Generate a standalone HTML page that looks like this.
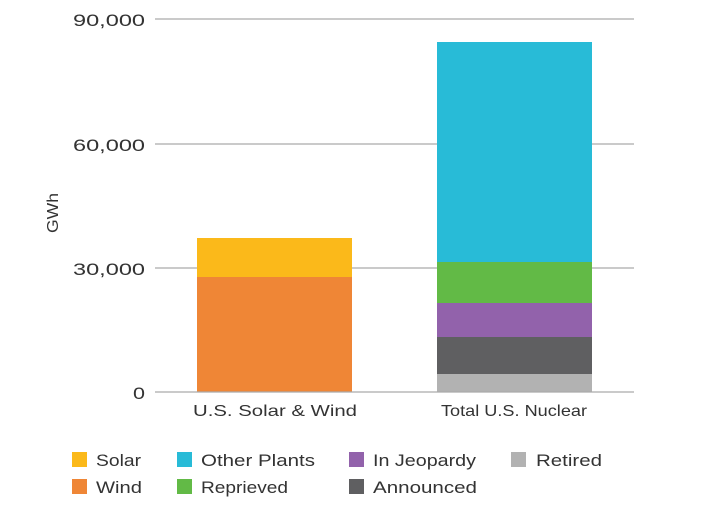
<!DOCTYPE html>
<html><head><style>body{margin:0;background:#fff}svg{display:block}text{font-family:"Liberation Sans",sans-serif;fill:#333}</style></head>
<body>
<svg width="716" height="513" viewBox="0 0 716 513">
<g stroke="#aaa" stroke-width="1.3">
<line x1="155" y1="19" x2="634" y2="19"/><line x1="155" y1="144" x2="634" y2="144"/><line x1="155" y1="268" x2="634" y2="268"/>
</g>
<g font-size="17">
<text x="73" y="26" textLength="72" lengthAdjust="spacingAndGlyphs">90,000</text>
<text x="73" y="151" textLength="72" lengthAdjust="spacingAndGlyphs">60,000</text>
<text x="73" y="275" textLength="72" lengthAdjust="spacingAndGlyphs">30,000</text>
<text x="133" y="399" textLength="12" lengthAdjust="spacingAndGlyphs">0</text>
</g>
<text x="58" y="213" font-size="16" text-anchor="middle" transform="rotate(-90 58 213)" textLength="40" lengthAdjust="spacingAndGlyphs">GWh</text>
<rect x="197" y="238" width="155" height="40" fill="#fbb91a"/>
<rect x="197" y="277" width="155" height="115" fill="#ef8636"/>
<rect x="437" y="42" width="155" height="221" fill="#28bbd7"/>
<rect x="437" y="262" width="155" height="42" fill="#62ba46"/>
<rect x="437" y="303" width="155" height="35" fill="#9262ab"/>
<rect x="437" y="337" width="155" height="38" fill="#5f5f61"/>
<rect x="437" y="374" width="155" height="18" fill="#b2b2b2"/>
<line x1="155" y1="392" x2="634" y2="392" stroke="#aaa" stroke-width="1.3"/>
<g font-size="16">
<text x="193" y="416" textLength="164" lengthAdjust="spacingAndGlyphs">U.S. Solar &amp; Wind</text>
<text x="441" y="416" textLength="146" lengthAdjust="spacingAndGlyphs">Total U.S. Nuclear</text>
</g>
<g font-size="17">
<rect x="72" y="452" width="15" height="15" fill="#fbb91a"/><text x="96" y="466" textLength="45" lengthAdjust="spacingAndGlyphs">Solar</text>
<rect x="72" y="479" width="15" height="15" fill="#ef8636"/><text x="96" y="493" textLength="46" lengthAdjust="spacingAndGlyphs">Wind</text>
<rect x="177" y="452" width="15" height="15" fill="#28bbd7"/><text x="201" y="466" textLength="114" lengthAdjust="spacingAndGlyphs">Other Plants</text>
<rect x="177" y="479" width="15" height="15" fill="#62ba46"/><text x="201" y="493" textLength="87" lengthAdjust="spacingAndGlyphs">Reprieved</text>
<rect x="349" y="452" width="15" height="15" fill="#9262ab"/><text x="373" y="466" textLength="103" lengthAdjust="spacingAndGlyphs">In Jeopardy</text>
<rect x="349" y="479" width="15" height="15" fill="#5f5f61"/><text x="373" y="493" textLength="104" lengthAdjust="spacingAndGlyphs">Announced</text>
<rect x="511" y="452" width="15" height="15" fill="#b2b2b2"/><text x="536" y="466" textLength="66" lengthAdjust="spacingAndGlyphs">Retired</text>
</g>
</svg>
</body></html>
